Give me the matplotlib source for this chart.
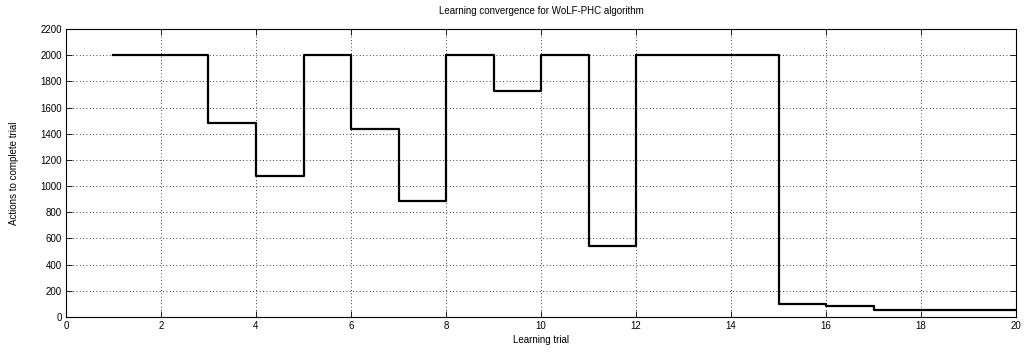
import matplotlib
matplotlib.use("Agg")
import matplotlib.pyplot as plt

plt.rcParams['font.family'] = ['Liberation Sans', 'DejaVu Sans']

# actions needed per learning trial
trials = [1, 2, 3, 4, 5, 6, 7, 8, 9, 10, 11, 12, 13, 14, 15, 16, 17, 18, 19, 20]
actions = [2000, 2000, 1485, 1080, 2000, 1440, 885, 2000, 1725, 2000,
           543, 2000, 2000, 2000, 97, 84, 52, 52, 52, 52]

fig = plt.figure(figsize=(10.31, 3.54), dpi=100)
ax = fig.add_axes([0.064, 0.1045, 0.9215, 0.8135])

ax.step(trials, actions, where='post', color='black', linewidth=1.6)

ax.set_xlim(0, 20)
ax.set_ylim(0, 2200)
ax.set_xticks(range(0, 21, 2))
ax.set_yticks(range(0, 2201, 200))

ax.grid(True, linestyle=(0, (1, 3)), color='black', linewidth=0.6)
ax.tick_params(direction='in', top=True, right=True, labelsize=7, length=4, width=0.6, pad=3)
for spine in ax.spines.values():
    spine.set_linewidth(0.8)

ax.set_title("Learning convergence for WoLF-PHC algorithm", fontsize=7, pad=11)
ax.set_xlabel("Learning trial", fontsize=7, labelpad=2.5)
ax.set_ylabel("Actions to complete trial", fontsize=7, labelpad=15)

fig.savefig("out.png", dpi=100)
